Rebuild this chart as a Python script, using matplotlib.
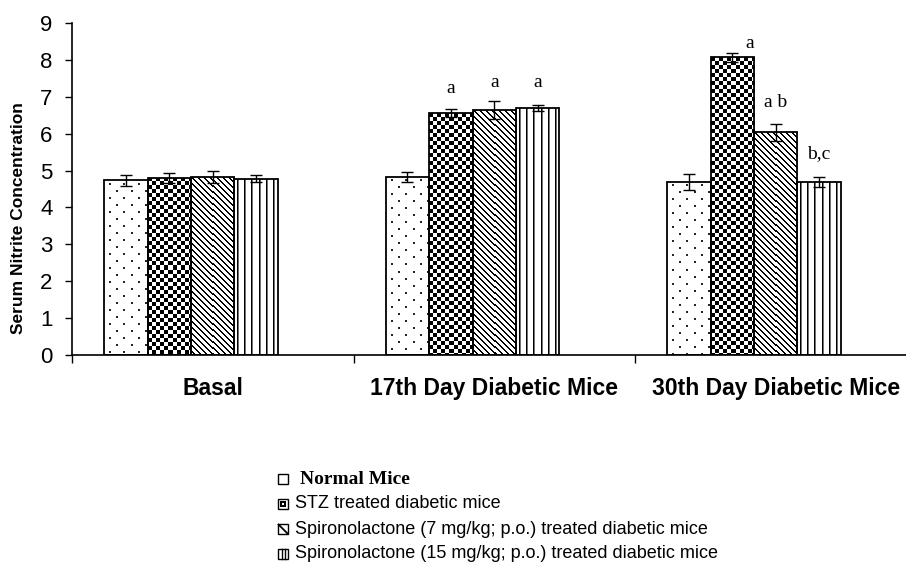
import numpy as np
import matplotlib
matplotlib.use('Agg')
import matplotlib.pyplot as plt
from matplotlib.patches import Rectangle

# ---------------- data ----------------
groups = ['Basal', '17th Day Diabetic Mice', '30th Day Diabetic Mice']
series = ['Normal Mice',
          'STZ treated diabetic mice',
          'Spironolactone (7 mg/kg; p.o.) treated diabetic mice',
          'Spironolactone (15 mg/kg; p.o.) treated diabetic mice']
normal = [4.74, 4.83, 4.69]
stz = [4.80, 6.55, 8.07]
spiro7 = [4.82, 6.64, 6.04]
spiro15 = [4.78, 6.70, 4.69]
normal_err = [0.15, 0.14, 0.23]
stz_err = [0.14, 0.11, 0.13]
spiro7_err = [0.17, 0.25, 0.23]
spiro15_err = [0.09, 0.08, 0.14]
normal_sig = ['', '', '']
stz_sig = ['', 'a', 'a']
spiro7_sig = ['', 'a', 'a b']
spiro15_sig = ['', 'a', 'b,c']
yticks = [0, 1, 2, 3, 4, 5, 6, 7, 8, 9]
y_label = 'Serum Nitrite Concentration'

values = [normal, stz, spiro7, spiro15]
errors = [normal_err, stz_err, spiro7_err, spiro15_err]
sigs = [normal_sig, stz_sig, spiro7_sig, spiro15_sig]
patterns = ['dots', 'checker', 'diag', 'vert']
# label offsets in pixels (dx, dy) per series/group
sig_offsets = [[(0, 0)] * 3,
               [(0, 0), (0, 16), (17, 5)],
               [(0, 0), (0, 14), (0, 17)],
               [(0, 0), (0, 18), (0, 19)]]

W, H = 906, 566
fig = plt.figure(figsize=(W / 100, H / 100), dpi=100)
cat_px = 281.5
ax = fig.add_axes([72 / W, (H - 355) / H, (W - 72) / W, 332 / H])
ax.set_xlim(-0.5, -0.5 + (W - 72) / cat_px)
ax.set_ylim(0, 9)
for s in ['top', 'right']:
    ax.spines[s].set_visible(False)
for s in ['left', 'bottom']:
    ax.spines[s].set_linewidth(1.2)
    ax.spines[s].set_color('black')


def texture(kind, h, w):
    yy, xx = np.mgrid[0:h, 0:w]
    arr = np.ones((h, w))
    if kind == 'dots':
        shift = 7 * ((yy // 7) % 2)
        m = ((yy % 7 == 3) | (yy % 7 == 4)) & (((xx + shift) % 14 == 5) | ((xx + shift) % 14 == 6))
        arr[m] = 0.15
    elif kind == 'checker':
        arr[((xx // 4) + (yy // 4)) % 2 == 0] = 0.0
    elif kind == 'diag':
        arr[(xx - yy) % 6 < 2] = 0.0
    elif kind == 'vert':
        arr[xx % 7 == 3] = 0.0
        arr[xx % 7 == 4] = 0.45
    return arr


bw = 0.1545
x = np.arange(len(groups))
for k, (vals, errs, pat) in enumerate(zip(values, errors, patterns)):
    xs = x + (k - 2) * bw
    bars = ax.bar(xs, vals, width=bw, facecolor='none', edgecolor='black',
                  linewidth=1.3, zorder=3)
    for b in bars:
        x0, y0 = b.get_x(), b.get_y()
        x1, y1 = x0 + b.get_width(), y0 + b.get_height()
        p0 = ax.transData.transform((x0, y0))
        p1 = ax.transData.transform((x1, y1))
        wpx = max(int(round(p1[0] - p0[0])), 1)
        hpx = max(int(round(p1[1] - p0[1])), 1)
        im = ax.imshow(texture(pat, hpx, wpx), extent=(x0, x1, y0, y1),
                       origin='upper', cmap='gray', vmin=0, vmax=1,
                       interpolation='nearest', aspect='auto', zorder=2)
        im.set_clip_path(b)
    ax.errorbar(xs, vals, yerr=errs, fmt='none', ecolor='black',
                elinewidth=1.0, capsize=4, capthick=1.0, zorder=4)
    for i, lab in enumerate(sigs[k]):
        if lab:
            dx, dy = sig_offsets[k][i]
            ax.annotate(lab, (xs[i], vals[i] + errs[i]),
                        xytext=(dx * 0.72, dy * 0.72), textcoords='offset points',
                        ha='center', va='baseline', fontsize=14,
                        family='Liberation Serif', zorder=5)

ax.set_ylim(0, 9)
ax.set_xlim(-0.5, -0.5 + (W - 72) / cat_px)
ax.set_yticks(yticks)
ax.set_yticklabels([str(t) for t in yticks], family='Liberation Sans', fontsize=16)
ax.tick_params(axis='y', direction='out', length=5, width=1.0, pad=9, colors='black')
ax.set_xticks(x)
ax.set_xticklabels(groups, fontsize=16.5, fontweight='bold', family='Liberation Sans')
ax.tick_params(axis='x', which='major', length=0, pad=16)
ax.set_xticks(np.arange(len(groups)) - 0.5, minor=True)
ax.tick_params(axis='x', which='minor', direction='out', length=6, width=1.0)

fig.text(19 / W, 1 - 218 / H, y_label, rotation=90, ha='center', va='center',
         fontsize=12.5, fontweight='bold', family='Liberation Sans')

# legend (manual)
row_y = [479, 504, 529, 554]
for k, name in enumerate(series):
    yc = row_y[k]
    sz = 10
    r = Rectangle(((283 - sz / 2) / W, 1 - (yc + sz / 2) / H), sz / W, sz / H,
                  transform=fig.transFigure, facecolor='white', edgecolor='black',
                  linewidth=1.0)
    fig.add_artist(r)
    if patterns[k] == 'checker':
        fig.add_artist(Rectangle(((283 - 3) / W, 1 - (yc + 3) / H), 6 / W, 6 / H,
                                 transform=fig.transFigure, facecolor='black',
                                 edgecolor='none'))
        fig.add_artist(Rectangle(((283 - 1) / W, 1 - (yc + 1) / H), 2 / W, 2 / H,
                                 transform=fig.transFigure, facecolor='white',
                                 edgecolor='none'))
    elif patterns[k] == 'diag':
        fig.add_artist(plt.Line2D([(283 - 4.5) / W, (283 + 4.5) / W],
                                  [1 - (yc - 4.5) / H, 1 - (yc + 4.5) / H],
                                  transform=fig.transFigure, color='black', lw=1.3))
    elif patterns[k] == 'vert':
        for dx in (-1.5, 1.5):
            fig.add_artist(plt.Line2D([(283 + dx) / W] * 2,
                                      [1 - (yc - 5) / H, 1 - (yc + 5) / H],
                                      transform=fig.transFigure, color='black', lw=1.0))
    if k == 0:
        fig.text(300 / W, 1 - yc / H, name, ha='left', va='center', fontsize=14,
                 fontweight='bold', family='Liberation Serif')
    else:
        fig.text(295 / W, 1 - yc / H, name, ha='left', va='center', fontsize=13,
                 family='Liberation Sans')

fig.savefig('out.png', dpi=100)
